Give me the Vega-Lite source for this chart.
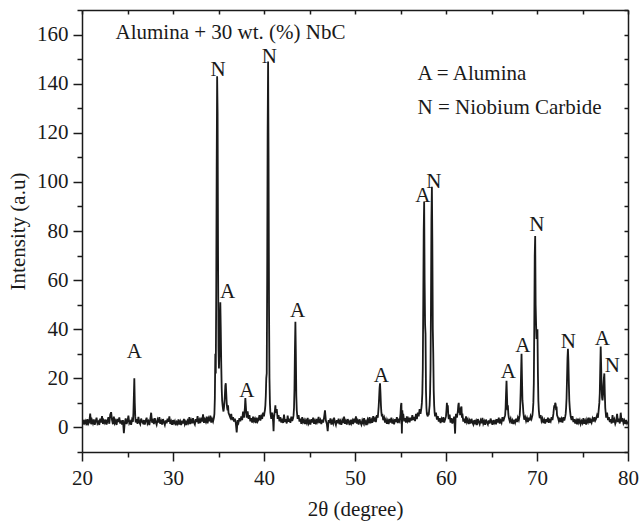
{
"$schema": "https://vega.github.io/schema/vega-lite/v6.json",
"width": 546, "height": 442,
"autosize": "none",
"padding": {"left": 82, "top": 10, "right": 13, "bottom": 72},
"background": "white",
"config": {"view": {"stroke": null},
 "axis": {"domainColor": "#1a1a1a", "domainWidth": 1.5, "tickColor": "#1a1a1a", "tickWidth": 1.5, "labelFont": "Liberation Serif, DejaVu Serif, serif", "labelFontSize": 21, "labelColor": "#1a1a1a", "titleFont": "Liberation Serif, DejaVu Serif, serif", "titleFontSize": 21, "titleFontWeight": "normal", "titleColor": "#1a1a1a", "grid": false}},
"datasets": {
"xrd": [
{"x":20.0,"y":2.4},{"x":20.1,"y":1.2},{"x":20.2,"y":3.1},{"x":20.3,"y":1.8},{"x":20.4,"y":2.6},{"x":20.5,"y":0.9},{"x":20.6,"y":3.4},{"x":20.7,"y":1.5},{"x":20.8,"y":2.2},{"x":20.9,"y":5.6},
{"x":21.0,"y":1.3},{"x":21.1,"y":2.9},{"x":21.2,"y":1.7},{"x":21.3,"y":3.3},{"x":21.4,"y":1.1},{"x":21.5,"y":2.5},{"x":21.6,"y":4.0},{"x":21.7,"y":1.6},{"x":21.8,"y":2.3},{"x":21.9,"y":1.0},
{"x":22.0,"y":3.6},{"x":22.1,"y":2.0},{"x":22.2,"y":4.6},{"x":22.3,"y":1.4},{"x":22.4,"y":2.8},{"x":22.5,"y":1.9},{"x":22.6,"y":3.2},{"x":22.7,"y":1.2},{"x":22.8,"y":2.6},{"x":22.9,"y":4.2},
{"x":23.0,"y":1.5},{"x":23.1,"y":5.2},{"x":23.2,"y":6.2},{"x":23.3,"y":3.0},{"x":23.4,"y":1.3},{"x":23.5,"y":4.4},{"x":23.6,"y":1.8},{"x":23.7,"y":2.7},{"x":23.8,"y":1.0},{"x":23.9,"y":3.5},
{"x":24.0,"y":2.2},{"x":24.1,"y":4.1},{"x":24.2,"y":1.6},{"x":24.3,"y":2.9},{"x":24.4,"y":1.2},{"x":24.5,"y":3.0},{"x":24.6,"y":-2.3},{"x":24.7,"y":2.0},{"x":24.8,"y":3.7},{"x":24.9,"y":1.4},
{"x":25.0,"y":2.6},{"x":25.1,"y":4.8},{"x":25.2,"y":1.7},{"x":25.3,"y":2.4},{"x":25.4,"y":1.1},{"x":25.5,"y":3.2},{"x":25.6,"y":2.3},{"x":25.65,"y":6},{"x":25.7,"y":13},{"x":25.75,"y":20},{"x":25.8,"y":10},{"x":25.85,"y":4.5},{"x":25.9,"y":2.0},
{"x":26.0,"y":3.4},{"x":26.1,"y":1.5},{"x":26.2,"y":4.3},{"x":26.3,"y":2.1},{"x":26.4,"y":1.3},{"x":26.5,"y":3.6},{"x":26.6,"y":2.4},{"x":26.7,"y":1.8},{"x":26.8,"y":3.0},{"x":26.9,"y":1.2},
{"x":27.0,"y":2.7},{"x":27.1,"y":4.0},{"x":27.2,"y":1.6},{"x":27.3,"y":2.5},{"x":27.4,"y":1.0},{"x":27.5,"y":3.3},{"x":27.6,"y":6.0},{"x":27.7,"y":1.9},{"x":27.8,"y":2.8},{"x":27.9,"y":1.4},
{"x":28.0,"y":3.8},{"x":28.1,"y":2.2},{"x":28.2,"y":1.1},{"x":28.3,"y":3.1},{"x":28.4,"y":2.0},{"x":28.5,"y":4.2},{"x":28.6,"y":1.5},{"x":28.7,"y":2.6},{"x":28.8,"y":1.2},{"x":28.9,"y":3.4},
{"x":29.0,"y":2.1},{"x":29.1,"y":1.0},{"x":29.2,"y":2.9},{"x":29.3,"y":1.7},{"x":29.4,"y":3.6},{"x":29.5,"y":2.3},{"x":29.6,"y":4.5},{"x":29.7,"y":1.4},{"x":29.8,"y":2.5},{"x":29.9,"y":1.1},
{"x":30.0,"y":3.0},{"x":30.1,"y":1.8},{"x":30.2,"y":2.6},{"x":30.3,"y":0.9},{"x":30.4,"y":2.2},{"x":30.5,"y":1.5},{"x":30.6,"y":3.3},{"x":30.7,"y":1.2},{"x":30.8,"y":2.4},{"x":30.9,"y":1.0},
{"x":31.0,"y":2.8},{"x":31.1,"y":1.6},{"x":31.2,"y":3.5},{"x":31.3,"y":1.3},{"x":31.4,"y":2.3},{"x":31.5,"y":1.0},{"x":31.6,"y":2.7},{"x":31.7,"y":1.9},{"x":31.8,"y":4.2},{"x":31.9,"y":1.4},
{"x":32.0,"y":2.9},{"x":32.1,"y":1.7},{"x":32.2,"y":3.8},{"x":32.3,"y":2.0},{"x":32.4,"y":1.2},{"x":32.5,"y":3.4},{"x":32.6,"y":2.2},{"x":32.7,"y":4.6},{"x":32.8,"y":1.6},{"x":32.9,"y":3.0},
{"x":33.0,"y":1.8},{"x":33.1,"y":4.0},{"x":33.2,"y":2.4},{"x":33.3,"y":5.3},{"x":33.4,"y":1.9},{"x":33.5,"y":3.2},{"x":33.6,"y":2.3},{"x":33.7,"y":4.4},{"x":33.8,"y":1.7},{"x":33.9,"y":3.6},
{"x":34.0,"y":2.5},{"x":34.1,"y":4.8},{"x":34.2,"y":2.0},{"x":34.3,"y":3.4},{"x":34.4,"y":2.4},{"x":34.5,"y":4.0},{"x":34.55,"y":5.5},{"x":34.6,"y":12},{"x":34.65,"y":30},{"x":34.7,"y":22},{"x":34.75,"y":55},{"x":34.8,"y":105},{"x":34.85,"y":143},{"x":34.9,"y":128},{"x":34.95,"y":70},
{"x":35.0,"y":32},{"x":35.05,"y":24},{"x":35.1,"y":30},{"x":35.15,"y":44},{"x":35.2,"y":51},{"x":35.25,"y":40},{"x":35.3,"y":26},{"x":35.35,"y":16},{"x":35.4,"y":11},{"x":35.45,"y":9},{"x":35.5,"y":7.5},{"x":35.55,"y":6.5},{"x":35.6,"y":8},{"x":35.65,"y":10},{"x":35.7,"y":13},{"x":35.75,"y":17},{"x":35.8,"y":18},{"x":35.85,"y":14},{"x":35.9,"y":10},{"x":35.95,"y":8},
{"x":36.0,"y":7},{"x":36.05,"y":9},{"x":36.1,"y":6},{"x":36.2,"y":5},{"x":36.3,"y":4},{"x":36.4,"y":5.5},{"x":36.5,"y":3},{"x":36.6,"y":4.2},{"x":36.7,"y":2.4},{"x":36.8,"y":3.6},{"x":36.9,"y":1.8},
{"x":37.0,"y":-2.0},{"x":37.1,"y":3.0},{"x":37.2,"y":2.0},{"x":37.3,"y":3.8},{"x":37.4,"y":2.5},{"x":37.5,"y":4.5},{"x":37.6,"y":3.0},{"x":37.7,"y":6.5},{"x":37.8,"y":4.0},{"x":37.85,"y":6},{"x":37.9,"y":8},{"x":37.95,"y":12},
{"x":38.0,"y":9},{"x":38.05,"y":6},{"x":38.1,"y":4},{"x":38.2,"y":6.5},{"x":38.3,"y":3.5},{"x":38.4,"y":5.0},{"x":38.5,"y":2.5},{"x":38.6,"y":3.8},{"x":38.7,"y":2.0},{"x":38.8,"y":4.4},{"x":38.9,"y":2.6},
{"x":39.0,"y":3.5},{"x":39.1,"y":1.8},{"x":39.2,"y":4.0},{"x":39.3,"y":2.4},{"x":39.4,"y":3.2},{"x":39.5,"y":5.0},{"x":39.6,"y":2.8},{"x":39.7,"y":4.5},{"x":39.8,"y":3.5},{"x":39.9,"y":6},
{"x":40.0,"y":4.5},{"x":40.05,"y":6},{"x":40.1,"y":7},{"x":40.15,"y":9},{"x":40.2,"y":13},{"x":40.25,"y":20},{"x":40.3,"y":22},{"x":40.35,"y":60},{"x":40.4,"y":120},{"x":40.45,"y":149},{"x":40.5,"y":110},{"x":40.55,"y":50},{"x":40.6,"y":20},{"x":40.65,"y":10},{"x":40.7,"y":6},{"x":40.8,"y":3.5},{"x":40.9,"y":6},
{"x":41.0,"y":2.5},{"x":41.05,"y":-1.5},{"x":41.1,"y":4},{"x":41.2,"y":7},{"x":41.25,"y":9},{"x":41.3,"y":6},{"x":41.4,"y":7.5},{"x":41.5,"y":3.5},{"x":41.6,"y":5},{"x":41.7,"y":2.5},{"x":41.8,"y":4.2},{"x":41.9,"y":2.0},
{"x":42.0,"y":3.6},{"x":42.1,"y":1.8},{"x":42.2,"y":5.2},{"x":42.3,"y":2.2},{"x":42.4,"y":3.4},{"x":42.5,"y":1.6},{"x":42.6,"y":4.8},{"x":42.7,"y":2.3},{"x":42.8,"y":3.6},{"x":42.9,"y":1.9},
{"x":43.0,"y":4.4},{"x":43.1,"y":2.6},{"x":43.2,"y":3.8},{"x":43.25,"y":5},{"x":43.3,"y":8},{"x":43.35,"y":16},{"x":43.4,"y":32},{"x":43.45,"y":43},{"x":43.5,"y":30},{"x":43.55,"y":13},{"x":43.6,"y":7},{"x":43.65,"y":5},{"x":43.7,"y":3.5},{"x":43.8,"y":5.0},{"x":43.9,"y":2.4},
{"x":44.0,"y":3.6},{"x":44.1,"y":1.5},{"x":44.2,"y":4.2},{"x":44.3,"y":2.2},{"x":44.4,"y":3.0},{"x":44.5,"y":1.4},{"x":44.6,"y":2.8},{"x":44.7,"y":1.8},{"x":44.8,"y":3.9},{"x":44.9,"y":1.6},
{"x":45.0,"y":2.5},{"x":45.1,"y":1.2},{"x":45.2,"y":3.4},{"x":45.3,"y":2.0},{"x":45.4,"y":4.0},{"x":45.5,"y":1.5},{"x":45.6,"y":2.7},{"x":45.7,"y":1.3},{"x":45.8,"y":3.5},{"x":45.9,"y":2.4},
{"x":46.0,"y":4.3},{"x":46.1,"y":1.8},{"x":46.2,"y":2.9},{"x":46.3,"y":1.4},{"x":46.4,"y":3.2},{"x":46.5,"y":2.0},{"x":46.6,"y":4.0},{"x":46.7,"y":7.0},{"x":46.8,"y":2.8},{"x":46.9,"y":1.5},
{"x":47.0,"y":-1.5},{"x":47.1,"y":3.0},{"x":47.2,"y":1.8},{"x":47.3,"y":3.7},{"x":47.4,"y":1.2},{"x":47.5,"y":2.6},{"x":47.6,"y":1.6},{"x":47.7,"y":4.0},{"x":47.8,"y":2.1},{"x":47.9,"y":1.0},
{"x":48.0,"y":3.0},{"x":48.1,"y":1.7},{"x":48.2,"y":3.6},{"x":48.3,"y":1.3},{"x":48.4,"y":2.5},{"x":48.5,"y":1.1},{"x":48.6,"y":2.9},{"x":48.7,"y":1.8},{"x":48.8,"y":4.4},{"x":48.9,"y":1.5},
{"x":49.0,"y":2.6},{"x":49.1,"y":1.2},{"x":49.2,"y":3.4},{"x":49.3,"y":2.2},{"x":49.4,"y":1.0},{"x":49.5,"y":3.1},{"x":49.6,"y":1.7},{"x":49.7,"y":2.8},{"x":49.8,"y":1.4},{"x":49.9,"y":3.6},
{"x":50.0,"y":2.0},{"x":50.1,"y":4.5},{"x":50.2,"y":1.6},{"x":50.3,"y":2.7},{"x":50.4,"y":1.2},{"x":50.5,"y":3.3},{"x":50.6,"y":2.0},{"x":50.7,"y":1.1},{"x":50.8,"y":2.9},{"x":50.9,"y":1.8},
{"x":51.0,"y":3.8},{"x":51.1,"y":1.5},{"x":51.2,"y":2.4},{"x":51.3,"y":1.0},{"x":51.4,"y":3.2},{"x":51.5,"y":2.3},{"x":51.6,"y":4.2},{"x":51.7,"y":1.7},{"x":51.8,"y":3.0},{"x":51.9,"y":1.9},
{"x":52.0,"y":4.6},{"x":52.1,"y":2.4},{"x":52.2,"y":3.5},{"x":52.3,"y":2.2},{"x":52.4,"y":5.0},{"x":52.5,"y":4.0},{"x":52.55,"y":6},{"x":52.6,"y":8.5},{"x":52.65,"y":12},{"x":52.7,"y":16},{"x":52.75,"y":18},{"x":52.8,"y":14},{"x":52.85,"y":9},{"x":52.9,"y":6},{"x":52.95,"y":4.5},
{"x":53.0,"y":5.5},{"x":53.1,"y":3.0},{"x":53.2,"y":4.0},{"x":53.3,"y":2.0},{"x":53.4,"y":3.2},{"x":53.5,"y":1.5},{"x":53.6,"y":2.8},{"x":53.7,"y":1.4},{"x":53.8,"y":3.5},{"x":53.9,"y":2.0},
{"x":54.0,"y":4.0},{"x":54.1,"y":1.6},{"x":54.2,"y":2.7},{"x":54.3,"y":1.3},{"x":54.4,"y":3.4},{"x":54.5,"y":2.2},{"x":54.6,"y":4.2},{"x":54.7,"y":1.8},{"x":54.8,"y":3.0},{"x":54.9,"y":2.4},
{"x":55.0,"y":5.5},{"x":55.05,"y":9},{"x":55.1,"y":10},{"x":55.15,"y":-2.5},{"x":55.2,"y":7},{"x":55.25,"y":4},{"x":55.3,"y":5.5},{"x":55.4,"y":2.5},{"x":55.5,"y":3.8},{"x":55.6,"y":2.0},{"x":55.7,"y":4.5},{"x":55.8,"y":2.6},{"x":55.9,"y":3.5},
{"x":56.0,"y":2.1},{"x":56.1,"y":4.0},{"x":56.2,"y":2.8},{"x":56.3,"y":5.0},{"x":56.4,"y":3.0},{"x":56.5,"y":4.3},{"x":56.6,"y":2.6},{"x":56.7,"y":5.5},{"x":56.8,"y":3.4},{"x":56.9,"y":6.0},
{"x":57.0,"y":4.5},{"x":57.1,"y":7.5},{"x":57.2,"y":5.5},{"x":57.3,"y":8},{"x":57.35,"y":10},{"x":57.4,"y":14},{"x":57.45,"y":24},{"x":57.5,"y":50},{"x":57.55,"y":80},{"x":57.6,"y":92},{"x":57.65,"y":60},{"x":57.7,"y":42},{"x":57.75,"y":38},{"x":57.8,"y":15},{"x":57.85,"y":8},{"x":57.9,"y":5.5},
{"x":58.0,"y":4.5},{"x":58.05,"y":6},{"x":58.1,"y":5},{"x":58.15,"y":7},{"x":58.2,"y":9},{"x":58.25,"y":14},{"x":58.3,"y":24},{"x":58.35,"y":50},{"x":58.4,"y":85},{"x":58.45,"y":98},{"x":58.5,"y":75},{"x":58.55,"y":40},{"x":58.6,"y":30},{"x":58.65,"y":15},{"x":58.7,"y":9},{"x":58.75,"y":6},{"x":58.8,"y":4.5},{"x":58.9,"y":6},
{"x":59.0,"y":3.2},{"x":59.1,"y":4.6},{"x":59.2,"y":2.4},{"x":59.3,"y":3.8},{"x":59.4,"y":1.8},{"x":59.5,"y":3.4},{"x":59.6,"y":2.2},{"x":59.7,"y":4.2},{"x":59.8,"y":2.0},{"x":59.9,"y":3.2},
{"x":60.0,"y":4.6},{"x":60.05,"y":7},{"x":60.1,"y":10},{"x":60.15,"y":7},{"x":60.2,"y":9},{"x":60.25,"y":5},{"x":60.3,"y":3.4},{"x":60.4,"y":5.2},{"x":60.5,"y":2.0},{"x":60.6,"y":3.8},{"x":60.7,"y":1.6},{"x":60.8,"y":3.0},{"x":60.9,"y":4.4},
{"x":61.0,"y":-2.5},{"x":61.05,"y":3.5},{"x":61.1,"y":5.5},{"x":61.2,"y":4.0},{"x":61.3,"y":6.5},{"x":61.35,"y":9},{"x":61.4,"y":10},{"x":61.45,"y":6},{"x":61.5,"y":8},{"x":61.55,"y":5},{"x":61.6,"y":7.5},{"x":61.7,"y":8.5},{"x":61.75,"y":4},{"x":61.8,"y":5.6},{"x":61.9,"y":2.4},
{"x":62.0,"y":3.6},{"x":62.1,"y":1.8},{"x":62.2,"y":4.5},{"x":62.3,"y":2.2},{"x":62.4,"y":3.2},{"x":62.5,"y":1.4},{"x":62.6,"y":2.8},{"x":62.7,"y":1.6},{"x":62.8,"y":3.5},{"x":62.9,"y":2.1},
{"x":63.0,"y":1.2},{"x":63.1,"y":3.0},{"x":63.2,"y":1.8},{"x":63.3,"y":2.7},{"x":63.4,"y":1.0},{"x":63.5,"y":3.4},{"x":63.6,"y":2.2},{"x":63.7,"y":1.3},{"x":63.8,"y":2.8},{"x":63.9,"y":1.7},
{"x":64.0,"y":3.9},{"x":64.1,"y":1.5},{"x":64.2,"y":2.5},{"x":64.3,"y":1.1},{"x":64.4,"y":3.2},{"x":64.5,"y":2.0},{"x":64.6,"y":1.2},{"x":64.7,"y":2.9},{"x":64.8,"y":1.6},{"x":64.9,"y":3.6},
{"x":65.0,"y":2.3},{"x":65.1,"y":1.1},{"x":65.2,"y":3.0},{"x":65.3,"y":1.8},{"x":65.4,"y":2.6},{"x":65.5,"y":1.3},{"x":65.6,"y":3.4},{"x":65.7,"y":2.0},{"x":65.8,"y":4.0},{"x":65.9,"y":1.6},
{"x":66.0,"y":2.8},{"x":66.1,"y":1.9},{"x":66.2,"y":4.2},{"x":66.3,"y":2.5},{"x":66.4,"y":3.8},{"x":66.5,"y":5.0},{"x":66.55,"y":8},{"x":66.6,"y":14},{"x":66.65,"y":19},{"x":66.7,"y":13},{"x":66.75,"y":7},{"x":66.8,"y":9},{"x":66.85,"y":5.5},{"x":66.9,"y":4},
{"x":67.0,"y":2.6},{"x":67.1,"y":3.6},{"x":67.2,"y":1.6},{"x":67.3,"y":2.8},{"x":67.4,"y":1.4},{"x":67.5,"y":3.2},{"x":67.6,"y":2.0},{"x":67.7,"y":3.6},{"x":67.8,"y":2.2},{"x":67.9,"y":4.0},
{"x":68.0,"y":3.0},{"x":68.1,"y":5},{"x":68.15,"y":8},{"x":68.2,"y":14},{"x":68.25,"y":22},{"x":68.3,"y":30},{"x":68.35,"y":20},{"x":68.4,"y":11},{"x":68.45,"y":9},{"x":68.5,"y":6},{"x":68.55,"y":4.5},{"x":68.6,"y":3.2},{"x":68.7,"y":4.2},{"x":68.8,"y":2.6},{"x":68.9,"y":3.8},
{"x":69.0,"y":2.2},{"x":69.1,"y":4.0},{"x":69.2,"y":2.8},{"x":69.3,"y":4.6},{"x":69.4,"y":3.5},{"x":69.5,"y":5},{"x":69.55,"y":7},{"x":69.6,"y":10},{"x":69.65,"y":18},{"x":69.7,"y":40},{"x":69.75,"y":70},{"x":69.8,"y":78},{"x":69.85,"y":50},{"x":69.9,"y":42},{"x":69.95,"y":36},
{"x":70.0,"y":38},{"x":70.05,"y":40},{"x":70.1,"y":22},{"x":70.15,"y":11},{"x":70.2,"y":7},{"x":70.25,"y":5},{"x":70.3,"y":3.8},{"x":70.4,"y":5.0},{"x":70.5,"y":2.6},{"x":70.6,"y":3.6},{"x":70.7,"y":1.8},{"x":70.8,"y":3.0},{"x":70.9,"y":1.6},
{"x":71.0,"y":3.4},{"x":71.1,"y":2.2},{"x":71.2,"y":4.0},{"x":71.3,"y":1.9},{"x":71.4,"y":3.0},{"x":71.5,"y":2.4},{"x":71.6,"y":4.2},{"x":71.7,"y":3.0},{"x":71.8,"y":5.5},{"x":71.85,"y":7.5},{"x":71.9,"y":9},{"x":71.95,"y":8},
{"x":72.0,"y":10},{"x":72.05,"y":9.5},{"x":72.1,"y":7},{"x":72.15,"y":8.5},{"x":72.2,"y":5},{"x":72.3,"y":4},{"x":72.4,"y":2.6},{"x":72.5,"y":4.0},{"x":72.6,"y":2.2},{"x":72.7,"y":3.4},{"x":72.8,"y":2.0},{"x":72.9,"y":4.2},
{"x":73.0,"y":2.8},{"x":73.1,"y":4.4},{"x":73.15,"y":5.5},{"x":73.2,"y":8},{"x":73.25,"y":12},{"x":73.3,"y":20},{"x":73.35,"y":28},{"x":73.4,"y":32},{"x":73.45,"y":27},{"x":73.5,"y":18},{"x":73.55,"y":11},{"x":73.6,"y":8},{"x":73.65,"y":6},{"x":73.7,"y":4.5},{"x":73.8,"y":3.0},{"x":73.9,"y":4.6},
{"x":74.0,"y":2.2},{"x":74.1,"y":3.4},{"x":74.2,"y":1.6},{"x":74.3,"y":2.8},{"x":74.4,"y":1.3},{"x":74.5,"y":3.6},{"x":74.6,"y":2.0},{"x":74.7,"y":3.0},{"x":74.8,"y":1.4},{"x":74.9,"y":2.6},
{"x":75.0,"y":1.8},{"x":75.1,"y":3.8},{"x":75.2,"y":1.5},{"x":75.3,"y":2.7},{"x":75.4,"y":1.2},{"x":75.5,"y":3.2},{"x":75.6,"y":2.2},{"x":75.7,"y":4.0},{"x":75.8,"y":1.8},{"x":75.9,"y":3.0},
{"x":76.0,"y":2.0},{"x":76.1,"y":3.6},{"x":76.2,"y":2.4},{"x":76.3,"y":4.2},{"x":76.4,"y":2.8},{"x":76.5,"y":3.6},{"x":76.6,"y":5.0},{"x":76.7,"y":4.0},{"x":76.75,"y":6},{"x":76.8,"y":8},{"x":76.85,"y":10},{"x":76.9,"y":14},{"x":76.95,"y":24},
{"x":77.0,"y":33},{"x":77.05,"y":25},{"x":77.1,"y":16},{"x":77.15,"y":12},{"x":77.2,"y":11},{"x":77.25,"y":13},{"x":77.3,"y":17},{"x":77.35,"y":20},{"x":77.4,"y":22},{"x":77.45,"y":14},{"x":77.5,"y":8},{"x":77.55,"y":6},{"x":77.6,"y":4.0},{"x":77.7,"y":6},{"x":77.8,"y":3.0},{"x":77.9,"y":4.2},
{"x":78.0,"y":2.2},{"x":78.1,"y":3.4},{"x":78.2,"y":1.6},{"x":78.3,"y":5.0},{"x":78.4,"y":2.0},{"x":78.5,"y":3.2},{"x":78.6,"y":1.5},{"x":78.7,"y":2.6},{"x":78.8,"y":5.5},{"x":78.9,"y":2.2},
{"x":79.0,"y":3.6},{"x":79.1,"y":1.6},{"x":79.2,"y":6.0},{"x":79.3,"y":2.4},{"x":79.4,"y":3.8},{"x":79.5,"y":1.8},{"x":79.6,"y":2.8},{"x":79.7,"y":1.4},{"x":79.8,"y":3.0},{"x":79.9,"y":1.7},{"x":80.0,"y":2.4}
],
"peaks": [
{"x":25.75,"y":28.3,"label":"A"},
{"x":34.94,"y":143.1,"label":"N"},
{"x":40.58,"y":148.5,"label":"N"},
{"x":36.0,"y":52.6,"label":"A"},
{"x":38.1,"y":12.3,"label":"A"},
{"x":43.7,"y":45.1,"label":"A"},
{"x":52.9,"y":18.7,"label":"A"},
{"x":57.45,"y":92,"label":"A"},
{"x":58.65,"y":97.4,"label":"N"},
{"x":66.85,"y":20,"label":"A"},
{"x":68.43,"y":30.9,"label":"A"},
{"x":69.97,"y":80.1,"label":"N"},
{"x":73.45,"y":32.3,"label":"N"},
{"x":77.18,"y":33.6,"label":"A"},
{"x":78.27,"y":22.7,"label":"N"}
],
"notes": [
{"x":23.68,"y":158.2,"label":"Alumina + 30 wt. (%) NbC"},
{"x":56.88,"y":141.5,"label":"A = Alumina"},
{"x":56.88,"y":127.5,"label":"N = Niobium Carbide"}
]
},
"layer": [
{"data": {"name": "xrd"},
 "mark": {"type": "line", "color": "#1a1a1a", "strokeWidth": 1.8, "clip": true},
 "encoding": {
  "x": {"field": "x", "type": "quantitative", "scale": {"domain": [20, 80], "nice": false, "zero": false},
   "axis": {"orient": "bottom", "title": "2θ (degree)", "values": [20,25,30,35,40,45,50,55,60,65,70,75,80],
    "labelExpr": "datum.value % 10 === 0 ? datum.label : ''",
    "tickSize": {"condition": {"test": "datum.value % 10 === 0", "value": 9}, "value": 5},
    "labelPadding": 6, "titlePadding": 10, "labelFlush": false, "labelOverlap": false}},
  "y": {"field": "y", "type": "quantitative", "scale": {"domain": [-10, 170], "nice": false, "zero": false},
   "axis": {"orient": "left", "title": "Intensity (a.u)", "values": [-10,0,10,20,30,40,50,60,70,80,90,100,110,120,130,140,150,160,170],
    "labelExpr": "(datum.value % 20 === 0 && datum.value >= 0 && datum.value <= 160) ? datum.label : ''",
    "tickSize": {"condition": {"test": "datum.value % 20 === 0", "value": 9}, "value": 5},
    "labelPadding": 5, "titlePadding": 8, "labelFlush": false, "labelOverlap": false}}
 }},
{"data": {"name": "peaks"},
 "mark": {"type": "text", "font": "Liberation Serif, DejaVu Serif, serif", "fontSize": 21, "baseline": "alphabetic", "align": "center", "color": "#1a1a1a"},
 "encoding": {
  "x": {"field": "x", "type": "quantitative",
   "axis": {"orient": "top", "title": null, "labels": false, "values": [20,25,30,35,40,45,50,55,60,65,70,75,80], "tickSize": -4}},
  "y": {"field": "y", "type": "quantitative",
   "axis": {"orient": "right", "title": null, "labels": false, "values": [-10,0,10,20,30,40,50,60,70,80,90,100,110,120,130,140,150,160,170], "tickSize": -4}},
  "text": {"field": "label"}
 }},
{"data": {"name": "notes"},
 "mark": {"type": "text", "font": "Liberation Serif, DejaVu Serif, serif", "fontSize": 21, "baseline": "alphabetic", "align": "left", "color": "#1a1a1a"},
 "encoding": {
  "x": {"field": "x", "type": "quantitative", "axis": null},
  "y": {"field": "y", "type": "quantitative", "axis": null},
  "text": {"field": "label"}
 }}
],
"resolve": {"axis": {"x": "independent", "y": "independent"}}
}
